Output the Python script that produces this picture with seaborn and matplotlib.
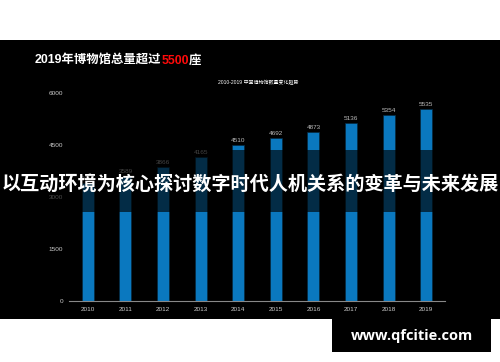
import matplotlib
matplotlib.use("Agg")
import matplotlib.pyplot as plt
import seaborn as sns
import pandas as pd
from matplotlib.patches import Rectangle

years = ["2010", "2011", "2012", "2013", "2014", "2015", "2016", "2017", "2018", "2019"]
counts = [3415, 3589, 3866, 4165, 4510, 4692, 4873, 5136, 5354, 5535]
yticks = [0, 1500, 3000, 4500, 6000]
title_a = "2019年博物馆总量超过"
title_b = "5500"
title_c = "座"
subtitle = "2010-2019 中国博物馆数量变化趋势"
headline = "以互动环境为核心探讨数字时代人机关系的变革与未来发展"
watermark = "www.qfcitie.com"

sns.set_theme(style="white")
plt.rcParams['font.family'] = ['Liberation Sans', 'Noto Sans CJK SC', 'DejaVu Sans']

W, H = 500, 362
fig = plt.figure(figsize=(W / 100, H / 100), dpi=100, facecolor="white")

def fx(px):
    return px / W

def fy(py):
    return 1 - py / H

# black panel
fig.patches.append(Rectangle((0, fy(319)), 1, fy(40) - fy(319), transform=fig.transFigure,
                             facecolor="black", edgecolor="none", zorder=-2))
# watermark box
fig.patches.append(Rectangle((fx(332), fy(352)), fx(491) - fx(332), fy(319) - fy(352),
                             transform=fig.transFigure, facecolor="black", edgecolor="none", zorder=-2))

ax = fig.add_axes([fx(69), fy(301), fx(445) - fx(69), fy(93) - fy(301)])
ax.set_zorder(1)
ax.set_facecolor("black")
df = pd.DataFrame({"year": years, "count": counts})
sns.barplot(data=df, x="year", y="count", color="#0a78bf", saturation=1, width=0.32, ax=ax,
            edgecolor="#06283f", linewidth=0.5)
for c in ax.containers:
    ax.bar_label(c, labels=[str(v) for v in counts], color="#bbbbbb", fontsize=4.6, padding=1.5)

ax.set_ylim(0, 6000)
ax.set_xlim(-0.5, 9.5)
ax.set_yticks(yticks)
ax.set_yticklabels([str(v) for v in yticks])
ax.set_xlabel("")
ax.set_ylabel("")
ax.tick_params(axis="both", colors="#cccccc", labelsize=4.6, length=0, pad=4)
for s in ["top", "right", "left"]:
    ax.spines[s].set_visible(False)
ax.spines["bottom"].set_color("#888888")
ax.spines["bottom"].set_linewidth(0.8)

# subtitle
fig.text(fx(258), fy(82), subtitle, color="white", fontsize=3.6, ha="center", va="center", zorder=3)

# title pieces
fig.canvas.draw()
renderer = fig.canvas.get_renderer()
x0 = fx(35)
ty = fy(61)
for txt, col in [(title_a, "white"), (title_b, "#ff0a0a"), (title_c, "white")]:
    t = fig.text(x0, ty, txt, color=col, fontsize=8.9, fontweight="bold", ha="left", va="center", zorder=3)
    bb = t.get_window_extent(renderer=renderer)
    x0 = bb.x1 / fig.bbox.width

# overlay band
band = Rectangle((0, fy(212)), 1, fy(150) - fy(212), transform=fig.transFigure,
                 facecolor="black", alpha=0.63, edgecolor="none", zorder=5)
fig.patches.append(band)
fig.text(0.5, fy(184), headline, color="white", fontsize=13.8, fontweight="bold",
         ha="center", va="center", zorder=6, family=["Noto Sans CJK SC", "DejaVu Sans"])

fig.text(fx(412), fy(336), watermark, color="white", fontsize=10.5, fontweight="bold",
         ha="center", va="center", family=["Open Sans", "DejaVu Sans"], zorder=3)

fig.savefig("out.png", dpi=100, facecolor="white")
